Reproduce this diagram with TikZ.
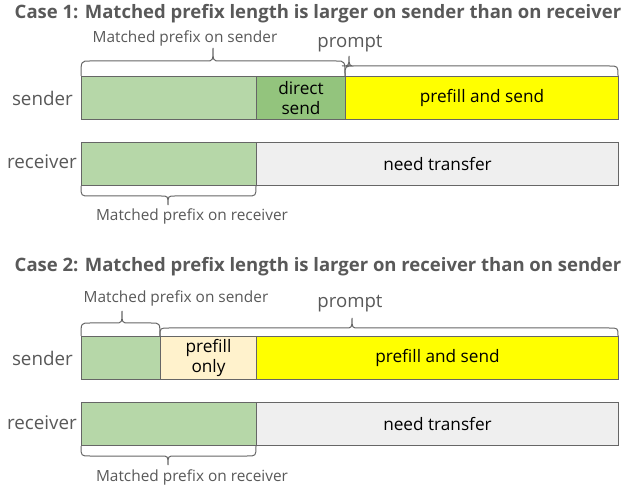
\documentclass[tikz,border=0pt]{standalone}
\usepackage{fontspec}
\setmainfont{Open Sans}
\definecolor{edge}{HTML}{666666}
\definecolor{labelgray}{HTML}{595959}
\definecolor{lightgreen}{HTML}{B6D7A8}
\definecolor{midgreen}{HTML}{93C47D}
\definecolor{brightyellow}{HTML}{FFFF00}
\definecolor{paleorange}{HTML}{FFF2CC}
\definecolor{palegray}{HTML}{EFEFEF}
\tikzset{
  seg/.style={draw=edge, line width=1pt, anchor=north west, inner sep=0pt,
    minimum height=43pt, align=center, font=\fontsize{17.2}{19.5}\selectfont, text=black},
  casetitle/.style={font=\fontsize{18.5}{20}\selectfont\bfseries, text=labelgray, anchor=base},
  rowlabel/.style={font=\fontsize{18.8}{20}\selectfont, text=labelgray, anchor=base east, inner sep=0pt},
  bracelabel/.style={font=\fontsize{15.4}{16}\selectfont, text=labelgray, anchor=base, inner sep=0pt},
  promptlabel/.style={font=\fontsize{18.6}{20}\selectfont, text=labelgray, anchor=base, inner sep=0pt},
  bracepath/.style={draw=edge, line width=1pt},
}
% curly brace: #1 left x, #2 right x, #3 base y, #4 arm y, #5 tip x, #6 tip y
\newcommand{\curlybrace}[6]{%
  \draw[bracepath] (#1,#3) .. controls (#1,#4) .. ({#1+9},#4) -- ({#5-7},#4)
    .. controls (#5,#4) .. (#5,#6) .. controls (#5,#4) .. ({#5+7},#4)
    -- ({#2-9},#4) .. controls (#2,#4) .. (#2,#3);}
\begin{document}
\begin{tikzpicture}[x=1pt,y=-1pt]
\useasboundingbox[fill=white] (0,0) rectangle (635,486);

% ---------- Case 1 ----------
\node[casetitle] (title1) at (318,19) {Case 1: Matched prefix length is larger on sender than on receiver};

\node[seg, fill=lightgreen,   minimum width=175pt] (s1a) at (81,76) {};
\node[seg, fill=midgreen,     minimum width=89pt]  (s1b) at (256,76) {direct\\send};
\node[seg, fill=brightyellow, minimum width=273pt] (s1c) at (345,76) {prefill and send};
\node[rowlabel] (snd1) at (73,106) {sender};

\node[seg, fill=lightgreen, minimum width=175pt] (r1a) at (81,142) {};
\node[seg, fill=palegray,   minimum width=362pt] (r1b) at (256,142) {need transfer};
\node[rowlabel] (rcv1) at (77,169) {receiver};

\curlybrace{81}{345}{76}{61}{213}{48}
\curlybrace{345}{618}{76}{66}{349}{56}
\node[bracelabel] (mps1) at (185,43) {Matched prefix on sender};
\node[promptlabel] (pr1) at (350,48) {prompt};

\curlybrace{81}{256}{186}{196}{168}{205}
\node[bracelabel] (mpr1) at (192,221) {Matched prefix on receiver};

% ---------- Case 2 ----------
\node[casetitle] (title2) at (318,272) {Case 2: Matched prefix length is larger on receiver than on sender};

\node[seg, fill=lightgreen,   minimum width=79pt]  (s2a) at (81,336) {};
\node[seg, fill=paleorange,   minimum width=96pt]  (s2b) at (160,336) {prefill\\only};
\node[seg, fill=brightyellow, minimum width=362pt] (s2c) at (256,336) {prefill and send};
\node[rowlabel] (snd2) at (73,366) {sender};

\node[seg, fill=lightgreen, minimum width=175pt] (r2a) at (81,402) {};
\node[seg, fill=palegray,   minimum width=362pt] (r2b) at (256,402) {need transfer};
\node[rowlabel] (rcv2) at (77,429) {receiver};

\curlybrace{81}{160}{336}{323}{122}{311}
\curlybrace{160}{618}{336}{328}{352}{318}
\node[bracelabel] (mps2) at (176,303) {Matched prefix on sender};
\node[promptlabel] (pr2) at (350,308) {prompt};

\curlybrace{81}{256}{446}{456}{168}{465}
\node[bracelabel] (mpr2) at (192,481) {Matched prefix on receiver};
\end{tikzpicture}
\end{document}
